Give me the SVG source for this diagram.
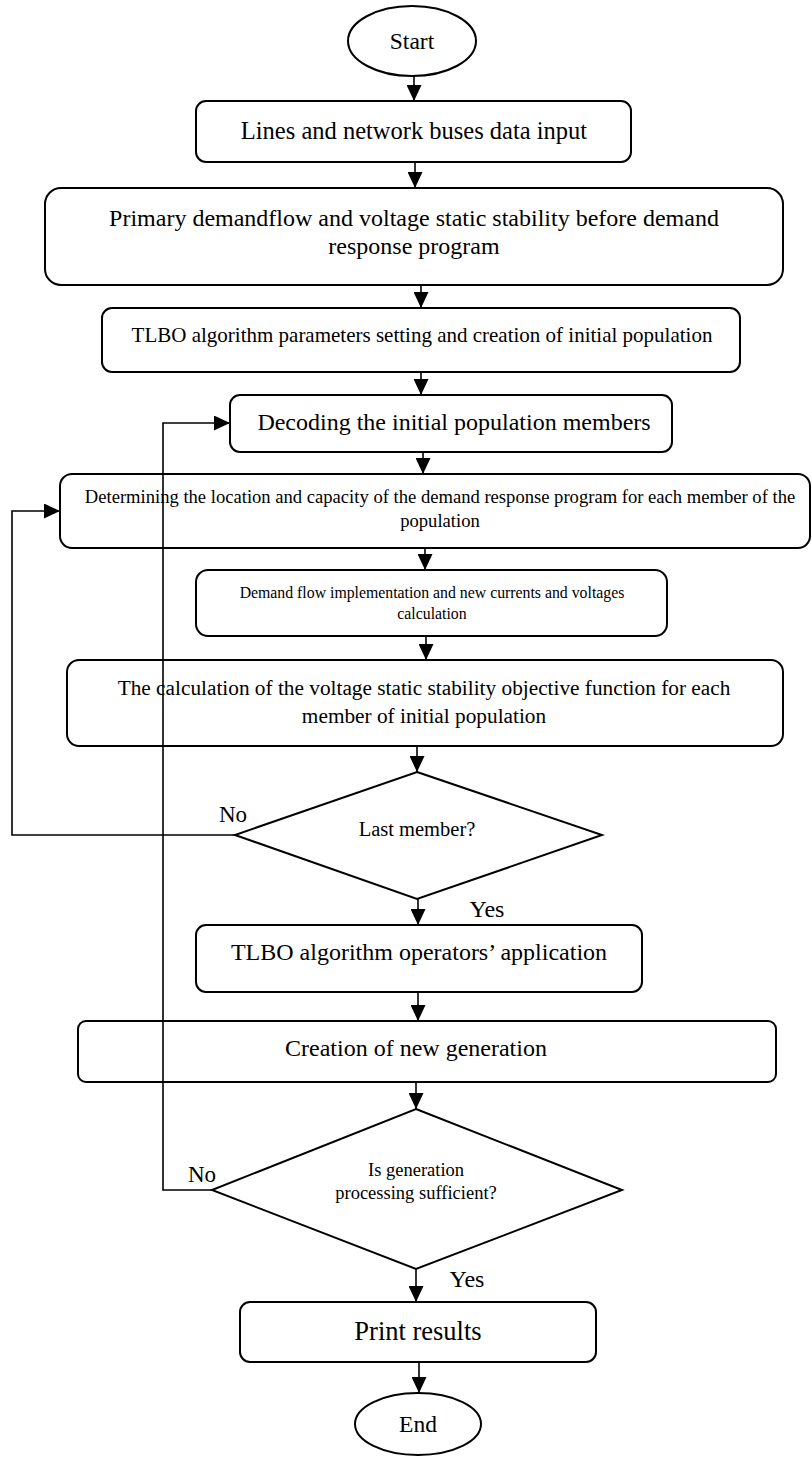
<svg xmlns="http://www.w3.org/2000/svg" width="812" height="1458" viewBox="0 0 812 1458">
<defs>
<marker id="ah" markerUnits="userSpaceOnUse" markerWidth="16" markerHeight="15" refX="16" refY="7.5" orient="auto">
<path d="M0,0 L16,7.5 L0,15 z" fill="#000"/>
</marker>
<style>
.n{fill:#fff;stroke:#000;stroke-width:2}
.t{font-family:"Liberation Serif","Times New Roman",serif;fill:#000;text-anchor:middle}
.c{fill:none;stroke:#000;stroke-width:1.6;marker-end:url(#ah)}
</style>
</defs>
<rect width="812" height="1458" fill="#fff"/>
<g id="start">
<ellipse class="n" cx="412" cy="41" rx="64" ry="35"/>
<text class="t" x="412" y="49" font-size="23.5">Start</text>
</g>
<g id="input">
<rect class="n" x="196" y="101" width="435" height="61" rx="10"/>
<text class="t" x="414" y="139" font-size="24.5">Lines and network buses data input</text>
</g>
<g id="primary">
<rect class="n" x="45" y="188" width="738" height="97" rx="16"/>
<text class="t" x="414" y="226" font-size="24">Primary demandflow and voltage static stability before demand</text>
<text class="t" x="414" y="254" font-size="24">response program</text>
</g>
<g id="tlbo-setting">
<rect class="n" x="102" y="308" width="638" height="64" rx="10"/>
<text class="t" x="422" y="342" font-size="21">TLBO algorithm parameters setting and creation of initial population</text>
</g>
<g id="decoding">
<rect class="n" x="230" y="395" width="442" height="57" rx="10"/>
<text class="t" x="454" y="430" font-size="24">Decoding the initial population members</text>
</g>
<g id="determining">
<rect class="n" x="60" y="474" width="750" height="74" rx="12"/>
<text class="t" x="440" y="503" font-size="18.6">Determining the location and capacity of the demand response program for each member of the</text>
<text class="t" x="440" y="527" font-size="18.6">population</text>
</g>
<g id="demandflow">
<rect class="n" x="196" y="570" width="471" height="66" rx="12"/>
<text class="t" x="432" y="598" font-size="15.8">Demand flow implementation and new currents and voltages</text>
<text class="t" x="432" y="619" font-size="15.8">calculation</text>
</g>
<g id="objective">
<rect class="n" x="67" y="660" width="716" height="86" rx="12"/>
<text class="t" x="424" y="695" font-size="21.3">The calculation of the voltage static stability objective function for each</text>
<text class="t" x="424" y="723" font-size="21.3">member of initial population</text>
</g>
<g id="last-member">
<polygon class="n" points="417,772 602,835 417,899 235,835"/>
<text class="t" x="417" y="836" font-size="20.5">Last member?</text>
</g>
<g id="operators">
<rect class="n" x="196" y="925" width="446" height="67" rx="10"/>
<text class="t" x="419" y="960" font-size="24">TLBO algorithm operators’ application</text>
</g>
<g id="new-generation">
<rect class="n" x="78" y="1021" width="698" height="61" rx="8"/>
<text class="t" x="416" y="1056" font-size="24">Creation of new generation</text>
</g>
<g id="sufficient">
<polygon class="n" points="416,1109 622,1190 416,1269 212,1190"/>
<text class="t" x="416" y="1176" font-size="18.5">Is generation</text>
<text class="t" x="416" y="1199" font-size="18.5">processing sufficient?</text>
</g>
<g id="print">
<rect class="n" x="240" y="1302" width="356" height="60" rx="10"/>
<text class="t" x="418" y="1340" font-size="26.5">Print results</text>
</g>
<g id="end">
<ellipse class="n" cx="418" cy="1424" rx="63" ry="31"/>
<text class="t" x="418" y="1432" font-size="23.5">End</text>
</g>
<g id="connectors">
<line class="c" x1="414" y1="76" x2="414" y2="101"/>
<line class="c" x1="415" y1="162" x2="415" y2="188"/>
<line class="c" x1="421" y1="285" x2="421" y2="308"/>
<line class="c" x1="421" y1="372" x2="421" y2="395"/>
<line class="c" x1="423" y1="452" x2="423" y2="474"/>
<line class="c" x1="425" y1="548" x2="425" y2="570"/>
<line class="c" x1="426" y1="636" x2="426" y2="660"/>
<line class="c" x1="417" y1="746" x2="417" y2="772"/>
<line class="c" x1="418" y1="899" x2="418" y2="925"/>
<line class="c" x1="418" y1="992" x2="418" y2="1021"/>
<line class="c" x1="416" y1="1082" x2="416" y2="1109"/>
<line class="c" x1="416" y1="1269" x2="416" y2="1302"/>
<line class="c" x1="419" y1="1362" x2="419" y2="1393"/>
<polyline class="c" points="235,835 12,835 12,511 60,511"/>
<polyline class="c" points="212,1190 163,1190 163,423 230,423"/>
<text class="t" x="233" y="822" font-size="23">No</text>
<text class="t" x="487" y="917" font-size="24">Yes</text>
<text class="t" x="202" y="1182" font-size="23">No</text>
<text class="t" x="467" y="1287" font-size="24">Yes</text>
</g>
</svg>
